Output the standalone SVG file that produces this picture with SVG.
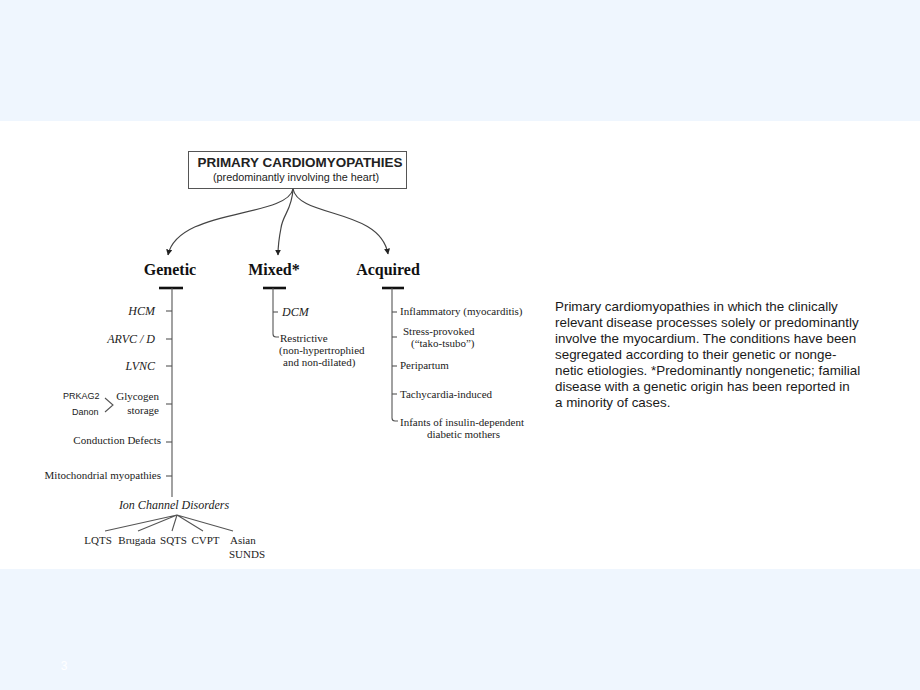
<svg xmlns="http://www.w3.org/2000/svg" width="920" height="690" viewBox="0 0 920 690">
<defs>
<style>
.s{font-family:"Liberation Serif","Times New Roman",serif;font-size:11px;fill:#222}
.si{font-family:"Liberation Serif","Times New Roman",serif;font-size:12px;font-style:italic;fill:#222}
.h{font-family:"Liberation Serif","Times New Roman",serif;font-size:16px;font-weight:bold;fill:#111;text-anchor:middle}
.a{font-family:"Liberation Sans",Arial,sans-serif;fill:#222}
.ln{stroke:#555;stroke-width:1.1;fill:none}
.bar{stroke:#111;stroke-width:2.6}
.cur{stroke:#444;stroke-width:1.2;fill:none;marker-end:url(#ah)}
.para{font-family:"Liberation Sans",Arial,sans-serif;font-size:13.4px;fill:#1a1a1a}
</style>
<marker id="ah" viewBox="0 0 10 10" refX="9" refY="5" markerWidth="6" markerHeight="6" orient="auto" markerUnits="userSpaceOnUse">
<path d="M0,0 L10,5 L0,10 z" fill="#222"/>
</marker>
</defs>
<rect x="0" y="0" width="920" height="690" fill="#EFF6FE"/>
<rect x="0" y="121" width="920" height="448" fill="#FFFFFF"/>

<g id="root">
<rect x="188.5" y="151.5" width="218" height="37" fill="#fff" stroke="#555" stroke-width="1"/>
<text x="300" y="167" class="a" font-size="12" font-weight="bold" text-anchor="middle" textLength="205" lengthAdjust="spacingAndGlyphs">PRIMARY CARDIOMYOPATHIES</text>
<text x="296" y="181" class="a" font-size="10.5" text-anchor="middle" textLength="166" lengthAdjust="spacingAndGlyphs">(predominantly involving the heart)</text>
</g>

<g id="connectors">
<path class="cur" d="M293,189 C287,218 178,208 168,255"/>
<path class="cur" d="M293,189 C292,210 283,214 281,228 C279,238 278,245 278,255"/>
<path class="cur" d="M293,189 C299,218 380,208 388,254"/>
</g>

<g id="genetic">
<text x="170" y="275" class="h">Genetic</text>
<line class="bar" x1="159" y1="288" x2="183" y2="288"/>
<line class="ln" x1="172" y1="288" x2="172" y2="497"/>
<line class="ln" x1="166" y1="311" x2="172" y2="311"/>
<line class="ln" x1="166" y1="339" x2="172" y2="339"/>
<line class="ln" x1="166" y1="366" x2="172" y2="366"/>
<line class="ln" x1="166" y1="404" x2="172" y2="404"/>
<line class="ln" x1="166" y1="442" x2="172" y2="442"/>
<line class="ln" x1="166" y1="476" x2="172" y2="476"/>
<text x="155" y="315" class="si" text-anchor="end">HCM</text>
<text x="155" y="343" class="si" text-anchor="end">ARVC / D</text>
<text x="155" y="370" class="si" text-anchor="end">LVNC</text>
<text x="159" y="400" class="s" text-anchor="end">Glycogen</text>
<text x="159" y="414" class="s" text-anchor="end">storage</text>
<text x="63" y="399" class="a" font-size="9">PRKAG2</text>
<text x="72" y="415" class="a" font-size="9">Danon</text>
<path class="ln" d="M105,398 L113,405 L105,412"/>
<text x="161" y="444" class="s" text-anchor="end">Conduction Defects</text>
<text x="161" y="479" class="s" text-anchor="end">Mitochondrial myopathies</text>
</g>

<g id="ion-channel">
<text x="174" y="509" class="si" font-size="11" text-anchor="middle">Ion Channel Disorders</text>
<path class="ln" d="M177,515 L105,531 M177,515 L138,531 M177,515 L172,531 M177,515 L203,531 M177,515 L233,531"/>
<text x="98" y="544" class="s" text-anchor="middle">LQTS</text>
<text x="137" y="544" class="s" text-anchor="middle">Brugada</text>
<text x="173.5" y="544" class="s" text-anchor="middle">SQTS</text>
<text x="205.5" y="544" class="s" text-anchor="middle">CVPT</text>
<text x="230" y="544" class="s">Asian</text>
<text x="229" y="558" class="s">SUNDS</text>
</g>

<g id="mixed">
<text x="274" y="275" class="h">Mixed*</text>
<line class="bar" x1="263" y1="288" x2="286" y2="288"/>
<path class="ln" d="M273,288 L273,334 Q273,337 276,337 L279,337"/>
<line class="ln" x1="273" y1="312" x2="278" y2="312"/>
<text x="282" y="316" class="si">DCM</text>
<text x="280" y="342" class="s">Restrictive</text>
<text x="279" y="354" class="s">(non-hypertrophied</text>
<text x="283" y="366" class="s">and non-dilated)</text>
</g>

<g id="acquired">
<text x="388" y="275" class="h">Acquired</text>
<line class="bar" x1="382" y1="288" x2="404" y2="288"/>
<path class="ln" d="M392,288 L392,418 Q392,421 395,421 L398,421"/>
<line class="ln" x1="392" y1="312" x2="397" y2="312"/>
<line class="ln" x1="392" y1="337" x2="397" y2="337"/>
<line class="ln" x1="392" y1="366" x2="397" y2="366"/>
<line class="ln" x1="392" y1="394" x2="397" y2="394"/>
<text x="400" y="315" class="s">Inflammatory (myocarditis)</text>
<text x="403" y="335" class="s">Stress-provoked</text>
<text x="411" y="347" class="s">(“tako-tsubo”)</text>
<text x="400" y="369" class="s">Peripartum</text>
<text x="400" y="398" class="s">Tachycardia-induced</text>
<text x="400" y="426" class="s">Infants of insulin-dependent</text>
<text x="427" y="438" class="s">diabetic mothers</text>
</g>

<g id="caption">
<text class="para" x="555" y="311">Primary cardiomyopathies in which the clinically</text>
<text class="para" x="555" y="327">relevant disease processes solely or predominantly</text>
<text class="para" x="555" y="343">involve the myocardium. The conditions have been</text>
<text class="para" x="555" y="359">segregated according to their genetic or nonge-</text>
<text class="para" x="555" y="375">netic etiologies. *Predominantly nongenetic; familial</text>
<text class="para" x="555" y="391">disease with a genetic origin has been reported in</text>
<text class="para" x="555" y="407">a minority of cases.</text>
</g>

<text x="64" y="670" font-family="Liberation Sans,Arial,sans-serif" font-size="12" fill="#FFFFFF" text-anchor="middle">3</text>
</svg>
